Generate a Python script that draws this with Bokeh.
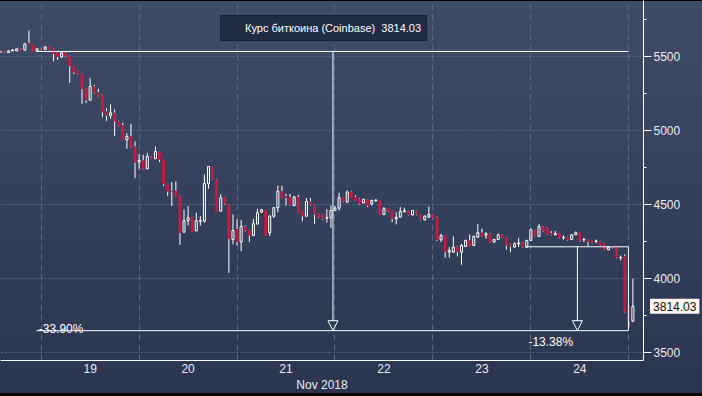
from bokeh.plotting import figure
from bokeh.models import (Range1d, FixedTicker, SingleIntervalTicker, Legend, LegendItem,
                          Label, Arrow, NormalHead, ColumnDataSource, GlobalInlineStyleSheet)
from bokeh.embed import file_html
from bokeh.resources import INLINE

# ---------------- data (hourly candles, hour 0 = 19 Nov 2018 00:00) ----------------
hours = list(range(-10, 146))
opens = [5531, 5540,
         5529, 5540, 5540, 5554, 5545, 5594, 5581, 5538, 5552, 5550, 5567, 5554, 5527, 5498, 5527, 5504,
         5441, 5403, 5385, 5288, 5207, 5299, 5261, 5243, 5130, 5103, 5121, 5067, 5036, 4939, 4961, 4894,
         4788, 4799, 4743, 4822, 4811, 4860, 4806, 4639, 4594, 4594, 4563, 4315, 4392, 4414, 4324, 4389,
         4389, 4642, 4759, 4670, 4457, 4547, 4502, 4265, 4337, 4248, 4353, 4326, 4292, 4371, 4450, 4461,
         4311, 4423, 4480, 4592, 4556, 4552, 4495, 4552, 4461, 4423, 4522, 4500, 4439, 4432, 4410, 4412,
         4461, 4477, 4547, 4518, 4585, 4552, 4540, 4513, 4536, 4507, 4527, 4529, 4434, 4473, 4461, 4405,
         4416, 4455, 4461, 4432, 4461, 4432, 4398, 4416, 4434, 4416, 4263, 4292, 4180, 4180, 4214, 4180,
         4218, 4259, 4225, 4281, 4311, 4295, 4304, 4248, 4265, 4297, 4277, 4236, 4214, 4236, 4247, 4214,
         4259, 4331, 4286, 4353, 4344, 4308, 4297, 4308, 4277, 4281, 4265, 4297, 4311, 4263, 4263, 4259,
         4254, 4254, 4241, 4196, 4214, 4214, 4142, 4150, 3808, 3714]
highs = [5541, 5542,
         5543, 5553, 5556, 5558, 5590, 5678, 5583, 5556, 5556, 5570, 5569, 5556, 5529, 5529, 5531, 5507,
         5443, 5405, 5387, 5290, 5356, 5310, 5284, 5245, 5153, 5178, 5144, 5070, 5054, 4984, 5047, 4928,
         4844, 4838, 4851, 4826, 4894, 4862, 4808, 4642, 4653, 4657, 4565, 4468, 4491, 4418, 4446, 4423,
         4705, 4761, 4761, 4675, 4570, 4550, 4505, 4434, 4401, 4398, 4360, 4330, 4405, 4473, 4472, 4463,
         4430, 4485, 4630, 4630, 4574, 4574, 4560, 4567, 4463, 4545, 4545, 4502, 4441, 4434, 4470, 4495,
         4491, 4581, 4549, 4597, 4590, 4563, 4545, 4540, 4540, 4534, 4538, 4531, 4484, 4475, 4463, 4450,
         4484, 4480, 4463, 4466, 4463, 4434, 4428, 4488, 4436, 4420, 4304, 4295, 4214, 4286, 4218, 4236,
         4263, 4299, 4292, 4371, 4338, 4315, 4308, 4270, 4304, 4300, 4280, 4238, 4247, 4277, 4250, 4263,
         4340, 4333, 4371, 4358, 4347, 4322, 4322, 4310, 4293, 4284, 4300, 4320, 4313, 4277, 4265, 4261,
         4265, 4256, 4243, 4216, 4216, 4216, 4157, 4165, 3812, 4000]
lows = [5529, 5527,
        5527, 5538, 5538, 5543, 5543, 5579, 5534, 5533, 5543, 5548, 5550, 5470, 5479, 5495, 5500, 5324,
        5383, 5380, 5182, 5187, 5203, 5250, 5228, 5092, 5067, 5081, 4964, 5025, 4935, 4878, 4885, 4680,
        4743, 4735, 4740, 4808, 4808, 4788, 4626, 4558, 4491, 4555, 4229, 4311, 4360, 4318, 4320, 4360,
        4378, 4608, 4668, 4453, 4455, 4500, 4040, 4232, 4225, 4187, 4320, 4248, 4288, 4365, 4446, 4290,
        4290, 4412, 4450, 4545, 4495, 4495, 4490, 4448, 4389, 4420, 4495, 4371, 4410, 4400, 4380, 4344,
        4458, 4461, 4515, 4515, 4545, 4525, 4500, 4510, 4484, 4495, 4520, 4432, 4430, 4450, 4383, 4367,
        4412, 4446, 4428, 4428, 4428, 4394, 4394, 4412, 4408, 4255, 4247, 4142, 4142, 4175, 4151, 4094,
        4214, 4222, 4220, 4277, 4285, 4270, 4245, 4243, 4262, 4274, 4196, 4180, 4210, 4214, 4210, 4210,
        4255, 4283, 4283, 4318, 4295, 4293, 4297, 4273, 4263, 4258, 4262, 4295, 4250, 4248, 4220, 4238,
        4240, 4222, 4192, 4192, 4205, 4138, 4124, 3770, 3672, 3707]
closes = [5535, 5531,
          5540, 5546, 5554, 5545, 5588, 5581, 5536, 5554, 5547, 5567, 5552, 5520, 5498, 5527, 5504, 5437,
          5396, 5383, 5284, 5207, 5299, 5254, 5232, 5126, 5103, 5121, 5065, 5029, 4939, 4961, 4889, 4786,
          4799, 4739, 4826, 4811, 4860, 4806, 4639, 4590, 4590, 4558, 4311, 4392, 4412, 4320, 4392, 4394,
          4644, 4759, 4670, 4455, 4547, 4507, 4270, 4326, 4248, 4353, 4326, 4292, 4371, 4446, 4466, 4293,
          4423, 4480, 4592, 4547, 4547, 4500, 4552, 4450, 4423, 4522, 4500, 4434, 4416, 4405, 4412, 4461,
          4477, 4547, 4518, 4585, 4547, 4529, 4507, 4536, 4495, 4529, 4531, 4434, 4473, 4455, 4405, 4416,
          4455, 4461, 4432, 4461, 4432, 4398, 4423, 4434, 4412, 4263, 4292, 4180, 4191, 4214, 4180, 4225,
          4259, 4225, 4286, 4311, 4288, 4304, 4248, 4265, 4297, 4277, 4225, 4214, 4236, 4241, 4214, 4259,
          4331, 4286, 4353, 4322, 4299, 4297, 4304, 4277, 4279, 4263, 4297, 4311, 4254, 4265, 4248, 4241,
          4256, 4225, 4196, 4214, 4212, 4142, 4144, 3774, 3714, 3814.03]

day_labels = ["19", "20", "21", "22", "23", "24"]
month_label = "Nov 2018"
series_name = "Курс биткоина (Coinbase)"
last_price = 3814.03

# measurement tool annotations (hours / prices)
m1_hours = [-1.15, 143.9]
m1_top = 5536
m1_bottom = 3649
m1_arrow_hour = 71.5
m1_text = "-33.90%"
m1_text_pos = (-0.6, 3662)
m2_hours = [118.6, 143.9]
m2_top = 4216
m2_arrow_hour = 131.4
m2_text = "-13.38%"
m2_text_pos = (119.4, 3572)
tag_hour = 149.2

FONT = "Liberation Sans"
RED = "#c81a40"
WHITE = "#ffffff"
TXT = "#e9ebf0"

# ---------------- figure ----------------
p = figure(frame_width=643, frame_height=360, output_backend="svg", toolbar_location=None,
           x_range=Range1d(-9.97, 147.6), y_range=Range1d(3447.5, 5880.4),
           y_axis_location="right", min_border_left=0, min_border_top=0,
           min_border_right=59, min_border_bottom=36)
p.background_fill_color = None
p.border_fill_color = None
p.outline_line_color = None
p.styles = {
    "background": "linear-gradient(180deg, #3f4c67 0%, #35415c 50%, #2a3550 100%)",
    "box-shadow": "inset 0 1px 0 #000000, inset 0 -3px 0 #000000",
}
p.stylesheets = [GlobalInlineStyleSheet(css="html, body { overflow: hidden; }")]

# grid
p.xgrid.ticker = FixedTicker(ticks=[24 * i for i in range(len(day_labels) + 1)])
p.xgrid.grid_line_color = "#566a88"
p.xgrid.grid_line_dash = "6 4"
p.ygrid.grid_line_color = "#5a6983"
p.ygrid.grid_line_dash = "2 2"

# y axis (right)
yax = p.yaxis[0]
yax.ticker = SingleIntervalTicker(interval=500, num_minor_ticks=2)
yax.axis_line_color = WHITE
yax.major_tick_line_color = WHITE
yax.major_tick_in = 0
yax.major_tick_out = 8
yax.minor_tick_line_color = WHITE
yax.minor_tick_in = 0
yax.minor_tick_out = 3
yax.major_label_standoff = 2
yax.major_label_text_color = TXT
yax.major_label_text_font = FONT
yax.major_label_text_font_size = "12px"

# x axis
day_centers = [12 + 24 * i for i in range(len(day_labels))]
xax = p.xaxis[0]
xax.ticker = FixedTicker(ticks=day_centers)
xax.major_label_overrides = {t: lab for t, lab in zip(day_centers, day_labels)}
xax.axis_line_color = WHITE
xax.major_tick_line_color = None
xax.minor_tick_line_color = None
xax.major_tick_in = 0
xax.major_tick_out = 0
xax.major_label_standoff = 3
xax.major_label_text_color = TXT
xax.major_label_text_font = FONT
xax.major_label_text_font_size = "12px"
xax.axis_label = month_label
xax.axis_label_standoff = 2
xax.axis_label_text_font = FONT
xax.axis_label_text_font_size = "12px"
xax.axis_label_text_font_style = "normal"
xax.axis_label_text_color = TXT

# ---------------- candles ----------------
tops = [max(o, c) for o, c in zip(opens, closes)]
bots = [min(o, c) for o, c in zip(opens, closes)]
p.segment(x0=hours, y0=highs, x1=hours, y1=tops, line_color=WHITE, line_width=1)
p.segment(x0=hours, y0=bots, x1=hours, y1=lows, line_color=WHITE, line_width=1)

up = [i for i in range(len(hours)) if closes[i] >= opens[i]]
dn = [i for i in range(len(hours)) if closes[i] < opens[i]]
src_up = ColumnDataSource(dict(x=[hours[i] for i in up], top=[tops[i] for i in up], bottom=[bots[i] for i in up]))
src_dn = ColumnDataSource(dict(x=[hours[i] for i in dn], top=[tops[i] for i in dn], bottom=[bots[i] for i in dn]))
p.vbar(x="x", top="top", bottom="bottom", width=0.68, source=src_dn, fill_color=RED, line_color=None)
p.vbar(x="x", top="top", bottom="bottom", width=0.5, source=src_up, fill_alpha=0,
       line_color=WHITE, line_width=1)

# ---------------- measurement annotations ----------------
p.segment(x0=[m1_hours[0], m1_hours[0], m2_hours[0], m2_hours[1]],
          y0=[m1_top, m1_bottom, m2_top, m1_bottom],
          x1=[m1_hours[1], m1_hours[1], m2_hours[1], m2_hours[1]],
          y1=[m1_top, m1_bottom, m2_top, m2_top],
          line_color=WHITE, line_width=1)
for ah, atop in [(m1_arrow_hour, m1_top), (m2_arrow_hour, m2_top)]:
    p.add_layout(Arrow(end=NormalHead(size=10, fill_color=None, line_color=WHITE, line_width=1),
                       x_start=ah, y_start=atop, x_end=ah, y_end=m1_bottom,
                       line_color=WHITE, line_width=1))
for (tx, ty), t in [(m1_text_pos, m1_text), (m2_text_pos, m2_text)]:
    p.add_layout(Label(x=tx, y=ty, text=t, text_baseline="alphabetic", text_color=WHITE,
                       text_font=FONT, text_font_size="12px"))

# last price tag on the axis (placed in the right panel so it is not clipped to the frame)
p.add_layout(Label(x=tag_hour, y=last_price, text=f"{last_price:.2f}", text_baseline="middle",
                   text_color="#111111", text_font=FONT, text_font_size="12px",
                   background_fill_color="#fff6ee", padding=3), "right")

# ---------------- legend ----------------
r_leg = p.quad(left=[], right=[], top=[], bottom=[], fill_color="#fff3ee", line_color=None)
legend = Legend(items=[LegendItem(label=f"{series_name}  {last_price:.2f}", renderers=[r_leg])],
                location=(220, 319), orientation="horizontal",
                background_fill_color="#222c45", background_fill_alpha=1,
                border_line_color="#0e1424", border_line_width=1.5,
                padding=5, margin=0, spacing=0,
                glyph_width=12, glyph_height=12, label_standoff=7,
                label_text_font=FONT, label_text_font_size="11px", label_text_color="#ffffff",
                label_height=14)
p.add_layout(legend)

open("out.html", "w").write(file_html(p, INLINE))
